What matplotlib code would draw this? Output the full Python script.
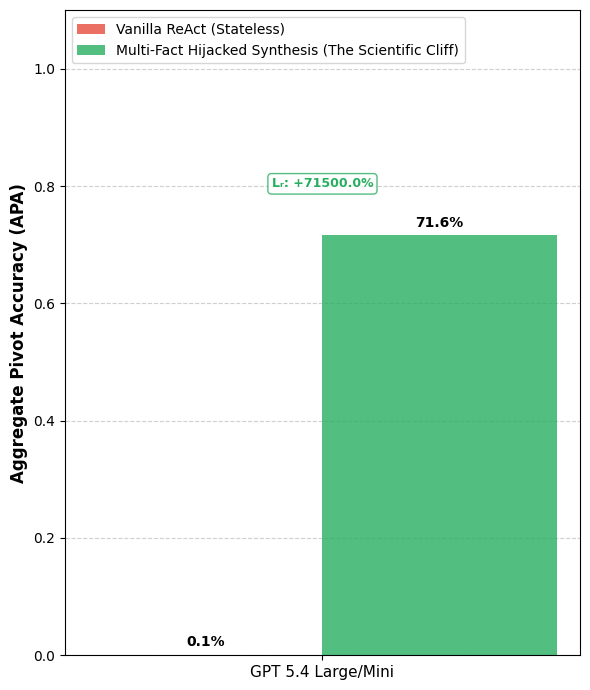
import matplotlib
matplotlib.use("Agg")
import matplotlib.pyplot as plt
import numpy as np

models = ["GPT 5.4 Large/Mini"]
series_names = ["Vanilla ReAct (Stateless)", "Multi-Fact Hijacked Synthesis (The Scientific Cliff)"]
vanilla = [0.0006]
hijacked = [0.716]
lift_text = "Lᵣ: +71500.0%"

fig, ax = plt.subplots(figsize=(5.9, 6.9), dpi=100)
x = np.arange(len(models))
w = 0.35
b1 = ax.bar(x - w/2, vanilla, w, color="#e74c3c", alpha=0.8, label=series_names[0])
b2 = ax.bar(x + w/2, hijacked, w, color="#27ae60", alpha=0.8, label=series_names[1])
for bars, vals in ((b1, vanilla), (b2, hijacked)):
    for r, v in zip(bars, vals):
        ax.text(r.get_x() + r.get_width()/2, v + 0.01, f"{v*100:.1f}%", ha="center", va="bottom",
                fontweight="bold", fontsize=10)
for i in x:
    ax.text(i, 0.804, lift_text, ha="center", va="center", fontsize=9, fontweight="bold", color="#27ae60",
            bbox=dict(boxstyle="round,pad=0.3", facecolor="white", edgecolor="#27ae60", alpha=0.8))
ax.set_ylim(0, 1.1)
ax.set_xticks(x)
ax.set_xticklabels(models, fontsize=11)
ax.set_ylabel("Aggregate Pivot Accuracy (APA)", fontsize=12, fontweight="bold")
ax.yaxis.grid(True, linestyle="--", alpha=0.6)
ax.set_axisbelow(True)
ax.legend(loc="upper left")
fig.subplots_adjust(left=0.11, right=0.983, top=0.985, bottom=0.0507)
fig.savefig("out.png")
